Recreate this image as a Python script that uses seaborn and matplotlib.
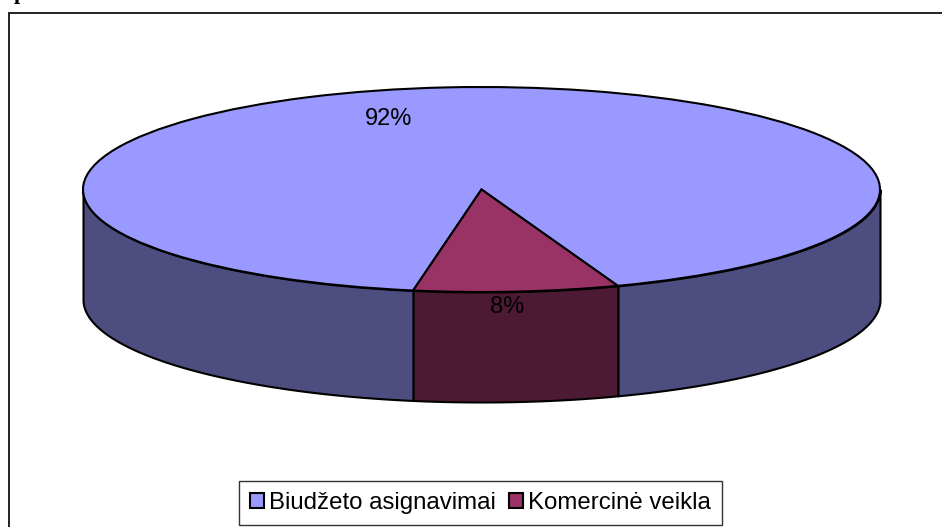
# Budget split as a flat 3D style pie
import numpy as np
import matplotlib.pyplot as plt
from matplotlib.colors import to_rgb
import seaborn as sns

sns.set_theme(style="white")
plt.rcParams['font.family'] = ['Liberation Sans', 'DejaVu Sans']

# Data
labels = ['Biudžeto asignavimai', 'Komercinė veikla']
values = [91.7, 8.3]
colors = ['#9999FF', '#993366']

W, H = 942, 527
cx, cy = 481.5, 189.5
rx, ry = 398.5, 102.5
depth = 110 / ry

fig = plt.figure(figsize=(W / 100, H / 100), dpi=100, facecolor='white')
ax = fig.add_axes([0, 0, 1, 1])

wedges, _, pct = ax.pie(values, colors=colors, startangle=290, autopct='%.0f%%',
                        wedgeprops={'edgecolor': 'black', 'linewidth': 1.5, 'zorder': 3},
                        textprops={'fontsize': 17, 'color': 'black', 'zorder': 5})

# pie forces equal aspect, squash it into the ellipse
ax.set_aspect('auto')
ax.set_xlim(-cx / rx, (W - cx) / rx)
ax.set_ylim(-(H - cy) / ry, cy / ry)
ax.set_frame_on(False)

# side wall, only the front half shows (wedge angles run past 360)
t1, t2 = wedges[1].theta1 % 360, wedges[1].theta2 % 360
dark = [tuple(0.5 * np.array(to_rgb(c))) for c in colors]
for a, b, c in [(180, t1, dark[0]), (t2, 360, dark[0]), (t1, t2, dark[1])]:
    t = np.radians(np.linspace(a, b, 80))
    ax.fill_between(np.cos(t), np.sin(t), np.sin(t) - depth, facecolor=c,
                    edgecolor='black', linewidth=1.5, zorder=2)

# percent labels
pct[0].set_position(((389 - cx) / rx, (cy - 119) / ry))
pct[1].set_position(((507 - cx) / rx, (cy - 307) / ry))

# chart frame, open on the right and bottom of the crop
fig.add_artist(plt.Rectangle((8.5 / W, -0.01), 2, (H - 12.5) / H + 0.01, facecolor='none',
                             edgecolor='#222222', linewidth=1.4, transform=fig.transFigure))

# descender of the heading cut off by the top edge
fig.text(20 / W, 1 + 1.5 / H, 'p', family='Liberation Serif', fontweight='bold', fontsize=16,
         ha='center', va='baseline', color='black')

leg = fig.legend(wedges, labels, ncol=2, loc='lower left', bbox_to_anchor=(239 / W, 1 - 525 / H),
                 fontsize=17.3, frameon=True, fancybox=False, edgecolor='#333333', framealpha=1,
                 labelcolor='black', handlelength=0.58, handleheight=0.58, handletextpad=0.22,
                 columnspacing=0.55, borderpad=0.45, borderaxespad=0)
leg.get_frame().set_linewidth(1)
for h in leg.legend_handles:
    h.set_edgecolor('black')
    h.set_linewidth(1.5)

plt.savefig('out.png', dpi=100)
